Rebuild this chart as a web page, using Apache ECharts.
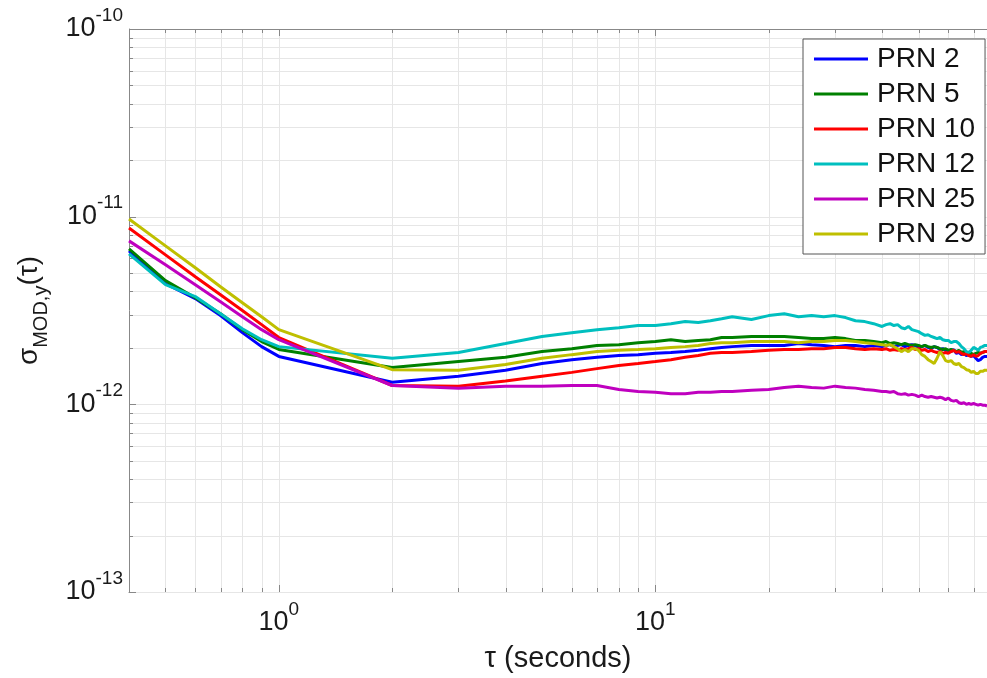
<!DOCTYPE html>
<html><head><meta charset="utf-8">
<script src="https://cdn.jsdelivr.net/npm/echarts@6/dist/echarts.min.js"></script>
<style>html,body{margin:0;padding:0;background:#fff}#c{width:987px;height:678px}</style>
</head><body><div id="c"></div>
<script>
// tau in seconds
const tau = [0.4,0.5,0.6,0.7,0.8,0.9,
  1,2,3,4,5,6,7,8,9,10,11,12,13,14,15,16,
  18,20,22,24,26,28,30,32,34,36,38,
  40,41,42,43,44,45,46,47,48,49,50,51,52,53,54,55,56,57,58,59,60,61,62,63,64,65,66,67,68,69,70,71,72,73,74,75,76];
// sigma values in units of 1e-12
const prn2 = [6.58,4.39,3.66,2.97,2.41,2.03,
  1.80,1.31,1.41,1.52,1.65,1.73,1.78,1.82,1.84,1.87,1.89,1.91,1.94,1.98,2.01,2.03,
  2.06,2.06,2.06,2.11,2.08,2.06,2.03,2.06,2.06,2.03,2.06,
  2.03,2.06,2.08,2.03,2.06,2.08,2.03,2.06,2.08,2.06,2.01,2.03,2.06,2.01,1.98,2.03,2.01,1.96,1.98,1.94,1.94,1.91,1.96,1.87,1.89,1.84,1.87,1.82,1.84,1.80,1.82,1.76,1.71,1.73,1.78,1.80,1.80];
const prn5 = [6.74,4.56,3.70,3.04,2.50,2.16,
  1.96,1.57,1.69,1.78,1.91,1.98,2.06,2.08,2.13,2.16,2.21,2.16,2.19,2.21,2.27,2.27,
  2.30,2.30,2.30,2.27,2.24,2.24,2.27,2.24,2.19,2.19,2.16,
  2.13,2.16,2.11,2.13,2.11,2.08,2.11,2.08,2.06,2.08,2.06,2.03,2.06,2.03,2.01,2.03,2.01,1.98,1.96,1.98,1.94,1.96,1.94,1.91,1.94,1.89,1.91,1.87,1.84,1.87,1.84,1.87,1.89,1.87,1.89,1.91,1.91];
const prn10 = [8.71,6.26,4.78,3.84,3.16,2.66,
  2.27,1.26,1.25,1.33,1.41,1.48,1.55,1.61,1.65,1.69,1.73,1.78,1.82,1.87,1.89,1.89,
  1.91,1.94,1.96,1.96,1.98,1.98,2.01,2.01,1.98,1.96,1.98,
  1.96,1.98,1.94,1.96,1.94,1.98,1.96,1.98,2.01,1.96,1.98,1.94,1.96,1.91,1.94,1.91,1.89,1.91,1.87,1.89,1.87,1.91,1.94,1.89,1.91,1.87,1.84,1.87,1.82,1.80,1.84,1.80,1.82,1.87,1.89,1.91,1.91];
const prn12 = [6.34,4.34,3.75,3.04,2.53,2.21,
  2.03,1.76,1.89,2.11,2.30,2.41,2.50,2.56,2.63,2.63,2.69,2.76,2.73,2.79,2.86,2.93,
  2.83,2.97,3.04,2.93,2.97,2.93,2.97,2.90,2.79,2.76,2.69,
  2.60,2.66,2.69,2.63,2.66,2.56,2.53,2.60,2.50,2.47,2.44,2.38,2.33,2.35,2.30,2.27,2.24,2.27,2.21,2.19,2.19,2.13,2.16,2.16,2.11,2.03,1.98,1.91,1.89,1.94,2.01,1.98,1.94,2.01,2.03,2.06,2.06];
const prn25 = [7.43,5.54,4.34,3.52,2.93,2.50,
  2.21,1.26,1.22,1.25,1.25,1.26,1.26,1.20,1.17,1.16,1.14,1.14,1.16,1.16,1.17,1.17,
  1.19,1.20,1.23,1.25,1.23,1.22,1.25,1.23,1.22,1.20,1.19,
  1.17,1.17,1.16,1.17,1.14,1.13,1.14,1.12,1.13,1.12,1.10,1.12,1.10,1.09,1.10,1.09,1.08,1.09,1.08,1.06,1.08,1.05,1.04,1.05,1.02,1.01,1.02,1.00,1.01,1.00,1.01,1.00,0.99,1.00,0.99,0.99,0.98];
const prn29 = [9.72,6.99,5.34,4.23,3.48,2.93,
  2.50,1.53,1.52,1.63,1.76,1.84,1.91,1.94,1.96,1.98,2.01,2.03,2.06,2.11,2.13,2.13,
  2.16,2.16,2.16,2.13,2.16,2.16,2.19,2.19,2.16,2.13,2.11,
  2.08,2.06,2.08,2.03,1.98,1.91,1.96,1.91,1.98,1.98,1.94,1.84,1.80,1.73,1.69,1.65,1.76,1.91,1.82,1.71,1.69,1.71,1.65,1.63,1.65,1.59,1.57,1.53,1.52,1.48,1.50,1.46,1.46,1.50,1.50,1.52,1.52];
const seriesNames = ['PRN 2','PRN 5','PRN 10','PRN 12','PRN 25','PRN 29'];
const seriesValues = [prn2, prn5, prn10, prn12, prn25, prn29];
const colors = ['#0000ff','#008000','#ff0000','#00bfbf','#bf00bf','#bfbf00'];
const Y_EXP_OFFSET = -12;           // values are in units of 1e-12
const X_MIN = 0.4, X_MAX = 76, Y_MIN = 0.1, Y_MAX = 100;
const xMajor = [1, 10];
const xMinor = [0.5,0.6,0.7,0.8,0.9,2,3,4,5,6,7,8,9,20,30,40,50,60,70];
const yMajor = [0.1, 1, 10, 100];
const yMinor = [0.2,0.3,0.4,0.5,0.6,0.7,0.8,0.9,2,3,4,5,6,7,8,9,20,30,40,50,60,70,80,90];

const FONT = 'Liberation Sans, Arial, Helvetica, sans-serif';
const isPow = v => { const e = Math.log10(v); return Math.abs(e - Math.round(e)) < 1e-6; };
const rich = {
  b: {fontSize: 27, fontFamily: FONT, color: '#1a1a1a'},
  s: {fontSize: 19, fontFamily: FONT, color: '#1a1a1a', padding: [0,0,27,0]}
};

const chart = echarts.init(document.getElementById('c'), null, {renderer: 'canvas'});
const option = {
  animation: false,
  backgroundColor: '#fff',
  grid: {left: 129, top: 29, width: 858, height: 565},
  legend: {
    orient: 'vertical', left: 803, top: 39,
    padding: [6, 10, 6, 11], itemGap: 7,
    itemWidth: 54, itemHeight: 3, icon: 'rect',
    borderColor: '#555', borderWidth: 1, backgroundColor: '#fff',
    textStyle: {fontSize: 28, fontFamily: FONT, color: '#111', padding: [0,0,0,4]},
    data: seriesNames
  },
  xAxis: {
    type: 'log', logBase: 10, min: X_MIN, max: X_MAX,
    name: 'τ (seconds)', nameLocation: 'middle', nameGap: 52,
    nameTextStyle: {fontSize: 29, fontFamily: FONT, color: '#1a1a1a', verticalAlign: 'top'},
    axisLine: {show: true, lineStyle: {color: '#888', width: 1}},
    axisTick: {show: false}, splitLine: {show: false},
    axisLabel: {margin: 8, rich: rich, showMinLabel: false, showMaxLabel: false,
      formatter: v => isPow(v) ? '{b|10}{s|' + Math.round(Math.log10(v)) + '}' : ''}
  },
  yAxis: {
    type: 'log', logBase: 10, min: Y_MIN, max: Y_MAX,
    name: '{a|σ}{c|MOD,y}{a|(τ)}', nameLocation: 'middle', nameGap: 78, nameRotate: 90,
    nameTextStyle: {rich: {
      a: {fontSize: 28, fontFamily: FONT, color: '#1a1a1a'},
      c: {fontSize: 20, fontFamily: FONT, color: '#1a1a1a', padding: [24,0,0,0]}
    }},
    axisLine: {show: true, lineStyle: {color: '#888', width: 1}},
    axisTick: {show: false}, splitLine: {show: false},
    axisLabel: {margin: 6, rich: rich,
      formatter: v => isPow(v) ? '{b|10}{s|' + (Math.round(Math.log10(v)) + Y_EXP_OFFSET) + '}' : ''}
  },
  series: seriesNames.map((n, i) => ({
    name: n, type: 'line', showSymbol: false, symbol: 'none',
    data: tau.map((t, j) => [t, seriesValues[i][j]]),
    lineStyle: {color: colors[i], width: 3},
    itemStyle: {color: colors[i]},
    z: 3 + i
  }))
};
chart.setOption(option);

function decor() {
  const g = [];
  const px = v => chart.convertToPixel({xAxisIndex: 0}, v);
  const py = v => chart.convertToPixel({yAxisIndex: 0}, v);
  const L = px(X_MIN), R = px(X_MAX), T = py(Y_MAX), B = py(Y_MIN);
  const r = v => Math.round(v) + 0.5;
  const gridStyle = {stroke: '#e6e6e6', lineWidth: 1};
  const tickStyle = {stroke: '#888', lineWidth: 1};
  const addV = (v, len) => {
    const p = r(px(v));
    g.push({type: 'line', silent: true, z: 1, shape: {x1: p, y1: T, x2: p, y2: B}, style: gridStyle});
    g.push({type: 'line', silent: true, z: 2, shape: {x1: p, y1: B, x2: p, y2: B - len}, style: tickStyle});
    g.push({type: 'line', silent: true, z: 2, shape: {x1: p, y1: T, x2: p, y2: T + len}, style: tickStyle});
  };
  const addH = (v, len) => {
    const p = r(py(v));
    g.push({type: 'line', silent: true, z: 1, shape: {x1: L, y1: p, x2: R, y2: p}, style: gridStyle});
    g.push({type: 'line', silent: true, z: 2, shape: {x1: L, y1: p, x2: L + len, y2: p}, style: tickStyle});
  };
  xMinor.forEach(v => addV(v, 4));
  xMajor.forEach(v => addV(v, 7));
  yMinor.forEach(v => addH(v, 4));
  yMajor.forEach(v => addH(v, 7));
  g.push({type: 'line', silent: true, z: 2, shape: {x1: L, y1: r(T), x2: R, y2: r(T)}, style: tickStyle});
  chart.setOption({graphic: {elements: g}});
}
decor();
</script>
</body></html>
